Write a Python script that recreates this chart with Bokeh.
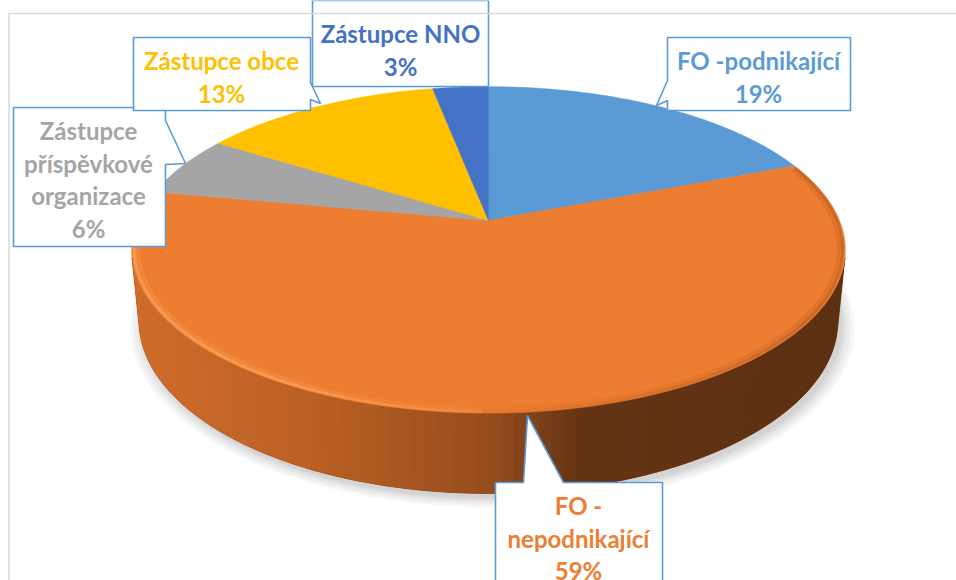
import numpy as np
from bokeh.plotting import figure
from bokeh.models import Range1d, ColumnDataSource
from bokeh.embed import file_html
from bokeh.resources import INLINE
from bokeh.core.properties import value

# ---------------- data ----------------
categories = ["FO -podnikající", "FO - nepodnikající",
              "Zástupce příspěvkové organizace", "Zástupce obce", "Zástupce NNO"]
values = [19, 59, 6, 13, 3]
colors = ["#5B9BD5", "#ED7D31", "#A5A5A5", "#FFC000", "#4472C4"]
label_lines = [["FO -podnikající"], ["FO -", "nepodnikající"],
               ["Zástupce", "příspěvkové", "organizace"], ["Zástupce obce"], ["Zástupce NNO"]]

# ---------------- layout (screen pixel coordinates) ----------------
W, H = 956, 580
p = figure(width=W, height=H, x_range=Range1d(0, W), y_range=Range1d(H, 0),
           output_backend="svg", toolbar_location=None, min_border=0)
p.axis.visible = False
p.grid.visible = False
p.outline_line_color = None
p.background_fill_color = "white"

CX, CY = 488.0, 220.0
SIN_E, COS_E = 0.45, 0.893
DIST = 4.96
FOC = 351.0 * DIST
THICK = 0.228


def proj(theta_deg, z=0.0, r=1.0):
    t = np.radians(np.asarray(theta_deg, dtype=float))
    X = r * np.sin(t)
    Y = r * np.cos(t)
    v = Y * SIN_E + z * COS_E
    depth = DIST + Y * COS_E - z * SIN_E
    return CX + FOC * X / depth, CY - FOC * v / depth


total = float(sum(values))
bounds = np.concatenate([[0.0], np.cumsum(values) / total * 360.0])

# ---------------- shadow ----------------
full = np.linspace(0, 360, 241)
sh_xs, sh_ys = [], []
for s in [1.035, 1.025, 1.015, 1.007, 1.0]:
    bx, by = proj(full, -THICK, s)
    sh_xs.append(list(bx + 4))
    sh_ys.append(list(by + 5))
p.patches(sh_xs, sh_ys, fill_color="black", fill_alpha=0.035, line_color=None)

# ---------------- side (front wall) ----------------
def lerp_color(t):
    stops = [(0.0, (208, 108, 42)), (0.25, (186, 96, 36)), (0.5, (150, 77, 28)),
             (0.63, (100, 52, 20)), (1.0, (92, 48, 18))]
    t = min(max(t, 0.0), 1.0)
    for (t0, c0), (t1, c1) in zip(stops[:-1], stops[1:]):
        if t <= t1:
            f = (t - t0) / (t1 - t0)
            c = [int(round(a + (b - a) * f)) for a, b in zip(c0, c1)]
            return "#%02x%02x%02x" % tuple(c)
    return "#%02x%02x%02x" % stops[-1][1]


lim = np.degrees(np.arccos(-1.0 / (DIST * COS_E)))
th = np.linspace(lim, 360 - lim, 91)
tx, ty = proj(th, 0.0)
bx, by = proj(th, -THICK)
sx_min, sx_max = tx.min(), tx.max()
p.patch(list(tx) + list(bx[::-1]), list(ty) + list(by[::-1]),
        fill_color="#9A4E1C", line_color="#9A4E1C", line_width=1)
side_xs, side_ys, side_c = [], [], []
for i in range(len(th) - 1):
    j = min(i + 2, len(th) - 1)
    side_xs.append([tx[i], tx[j], bx[j], bx[i]])
    side_ys.append([ty[i], ty[j], by[j], by[i]])
    mid = 0.5 * (tx[i] + tx[i + 1])
    side_c.append(lerp_color((mid - sx_min) / (sx_max - sx_min)))
p.patches(xs="xs", ys="ys", fill_color="c", line_color=None,
          source=ColumnDataSource(dict(xs=side_xs, ys=side_ys, c=side_c)))

# ---------------- top faces ----------------
top_xs, top_ys = [], []
for i in range(len(values)):
    a = np.linspace(bounds[i], bounds[i + 1], max(4, int(values[i] * 4)))
    ax, ay = proj(a, 0.0)
    top_xs.append([CX] + list(ax))
    top_ys.append([CY] + list(ay))
p.patches(xs="xs", ys="ys", fill_color="c", line_color="c", line_width=0.5,
          source=ColumnDataSource(dict(xs=top_xs, ys=top_ys, c=colors)))

# bevel highlight / soft shade along the orange rim
rim = np.linspace(bounds[1] + 1, bounds[2] - 1, 120)
for r, lw, k_light, k_dark in [(0.985, 6, 0.35, 0.12), (0.993, 3, 0.85, 0.22)]:
    rx, ry = proj(rim, 0.0, r)
    rl_xs, rl_ys, rl_c, rl_a = [], [], [], []
    for i in range(len(rim) - 1):
        rl_xs.append([rx[i], rx[i + 1]])
        rl_ys.append([ry[i], ry[i + 1]])
        m = 0.5 * (rim[i] + rim[i + 1])
        if m > 180:
            rl_c.append("#FA9C55")
            rl_a.append(min(1.0, (m - 170) / 40.0) * k_light)
        else:
            rl_c.append("#7A3C12")
            rl_a.append(min(1.0, (190 - m) / 60.0) * k_dark)
    p.multi_line(xs="xs", ys="ys", line_color="c", line_alpha="a", line_width=lw,
                 source=ColumnDataSource(dict(xs=rl_xs, ys=rl_ys, c=rl_c, a=rl_a)))

# ---------------- callouts ----------------
BORDER = "#5B9BD5"
callouts = [
    [(667, 37), (850, 37), (850, 110), (667, 110), (667, 100), (656, 105), (667, 80)],
    [(495, 482), (523, 482), (527, 415), (563, 482), (662, 482), (662, 600), (495, 600)],
    [(13, 107), (165, 107), (165, 120), (185, 163), (165, 164), (165, 246), (13, 246)],
    [(133, 37), (310, 37), (310, 82), (320, 103), (310, 99), (310, 110), (133, 110)],
    [(312, 0), (488, 0), (488, 86), (312, 86)],
]
label_pos = [(758, 60), (578, 505), (88, 130), (221, 60), (400, 33)]
LINE_H = 32.5

p.patches([[q[0] for q in c] for c in callouts], [[q[1] for q in c] for c in callouts],
          fill_color="white", line_color=BORDER, line_width=1.6)

t_x, t_y, t_s, t_c = [], [], [], []
for i in range(len(values)):
    lx, ly = label_pos[i]
    lines = label_lines[i] + ["%d%%" % round(values[i] / total * 100)]
    for j, s in enumerate(lines):
        t_x.append(lx)
        t_y.append(ly + j * LINE_H)
        t_s.append(s)
        t_c.append(colors[i])
p.text(x="x", y="y", text="t", text_color="c", text_align="center", text_baseline="middle",
       text_font=value("Lato"), text_font_style="bold", text_font_size="24px",
       source=ColumnDataSource(dict(x=t_x, y=t_y, t=t_s, c=t_c)))

# chart frame
p.line([8.5, 8.5, 960], [600, 13, 13], line_color="#D9D9D9", line_width=1.5)

open("out.html", "w").write(file_html(p, INLINE))
